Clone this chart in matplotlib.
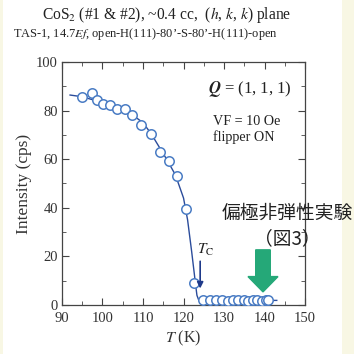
import matplotlib.pyplot as plt
import matplotlib.patches as patches
from matplotlib.ticker import MultipleLocator

# measured points (T in K, intensity in cps)
temp = [94.9, 97.3, 98.7, 100.2, 101.9, 103.7, 105.6, 107.3, 109.5, 111.9,
        114.2, 116.3, 118.5, 120.6, 122.6, 124.9, 126.5, 128.0, 129.5, 130.9,
        132.3, 133.5, 134.8, 136.0, 137.1, 138.2, 139.3, 140.4, 140.9]
intensity = [85.4, 87.1, 84.4, 82.9, 82.1, 80.6, 80.6, 78.2, 74.0, 70.4,
             63.1, 59.4, 53.0, 39.5, 8.9, 2.2, 2.0, 1.9, 2.0, 1.8,
             1.9, 2.0, 1.9, 1.8, 2.0, 1.9, 1.8, 2.0, 1.9]

# guide line through the data
fit_t = [92, 95, 100, 105, 108, 110, 112, 114, 116, 118, 120, 121, 122, 123,
         123.3, 123.7, 124.5, 130, 143]
fit_i = [86.4, 85.7, 83.3, 80.3, 77.5, 75.0, 70.5, 65.0, 59.5, 53.5, 44.0,
         35.0, 22.0, 8.0, 4.0, 2.2, 1.9, 1.9, 1.9]

plt.rcParams['font.family'] = 'Liberation Serif'
plt.rcParams['mathtext.fontset'] = 'stix'

fig = plt.figure(figsize=(3.54, 3.54), dpi=100, facecolor='#f8f7e4')
fig.patches.append(patches.Rectangle((3 / 354, 0), 339 / 354, 1, transform=fig.transFigure,
                                     facecolor='white', edgecolor='none', zorder=-5))

ax = fig.add_axes([0.175, 0.1384, 0.687, 0.6865])
ax.set_facecolor('white')

ax.plot(fit_t, fit_i, color='#2b4c9b', lw=1.0, zorder=2)
ax.plot(temp, intensity, 'o', ms=6.8, mfc='white', mec='#4a7cc4', mew=1.1, zorder=3)

ax.set_xlim(90, 150)
ax.set_ylim(0, 100)
ax.xaxis.set_major_locator(MultipleLocator(10))
ax.xaxis.set_minor_locator(MultipleLocator(5))
ax.yaxis.set_major_locator(MultipleLocator(20))
ax.yaxis.set_minor_locator(MultipleLocator(10))
ax.tick_params(which='both', direction='in', top=True, right=True, color='#444444',
               labelsize=10.5, labelcolor='#333333')
ax.tick_params(axis='x', pad=5)
ax.tick_params(axis='y', pad=3)
ax.tick_params(which='major', length=5)
ax.tick_params(which='minor', length=3)
for s in ax.spines.values():
    s.set_color('#444444')
    s.set_linewidth(0.9)

ax.set_xlabel('$T$ (K)', fontsize=11.5, color='#333333', labelpad=3)
ax.set_ylabel('Intensity (cps)', fontsize=12.5, color='#333333', labelpad=3)

fig.text(0.47, 0.958, 'CoS$_2$ (#1 & #2), ~0.4 cc,  ($h$, $k$, $k$) plane',
         ha='center', va='center', fontsize=11.2, color='#222222')
fig.text(0.412, 0.905, 'TAS-1, 14.7$Ef$, open-H(111)-80\u2019-S-80\u2019-H(111)-open',
         ha='center', va='center', fontsize=8.9, color='#222222')

ax.text(126, 89, r'$\boldsymbol{Q}$ = (1, 1, 1)', fontsize=12, color='#222222', va='center')
ax.text(127.3, 75.6, 'VF = 10 Oe', fontsize=10.2, color='#222222', va='center')
ax.text(127.3, 69, 'flipper ON', fontsize=10.2, color='#222222', va='center')

# Tc marker
ax.text(125.5, 22.7, '$T_\\mathrm{C}$', fontsize=11, color='#222222', ha='center', va='center')
ax.annotate('', xy=(124.1, 6.8), xytext=(124.1, 18),
            arrowprops=dict(arrowstyle='-|>', color='#1f3a8a', lw=1.2,
                            mutation_scale=9, shrinkA=0, shrinkB=0))

# green arrow pointing at the measurement temperature
ax.add_patch(patches.FancyArrow(139.6, 22.7, 0, -17.3, width=3.6, head_width=7.4,
                                head_length=6.3, length_includes_head=True,
                                color='#25a878', zorder=4))

cjk = ['Noto Sans CJK JP', 'DejaVu Sans']
fig.text(287 / 354, 1 - 213 / 354, '偏極非弾性実験', family=cjk, fontsize=13.5,
         fontweight='normal', ha='center', va='center', color='#222222')
fig.text(287 / 354, 1 - 239 / 354, '（図3）', family=cjk, fontsize=13.5,
         fontweight='normal', ha='center', va='center', color='#222222')

fig.savefig('out.png', dpi=100, facecolor=fig.get_facecolor())
